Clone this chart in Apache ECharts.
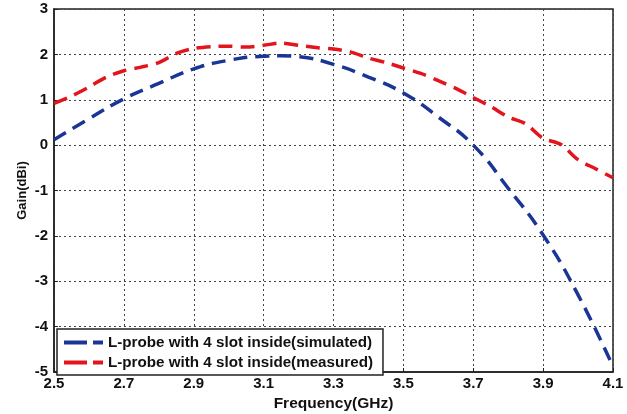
<!DOCTYPE html>
<html><head><meta charset="utf-8">
<script src="https://cdn.jsdelivr.net/npm/echarts@6/dist/echarts.min.js"></script>
<style>html,body{margin:0;padding:0;background:#fff}#c{width:627px;height:414px}</style>
</head><body><div id="c"></div>
<script>
const simFreq = [2.5, 2.6, 2.7, 2.8, 2.9, 3.0, 3.1, 3.15, 3.2, 3.3, 3.4, 3.5, 3.6, 3.7, 3.8, 3.9, 4.0, 4.1];
const simGain = [0.12, 0.58, 1.02, 1.36, 1.68, 1.87, 1.96, 1.97, 1.95, 1.78, 1.5, 1.15, 0.62, 0.0, -0.95, -1.98, -3.3, -4.88];
const measFreq = [2.5, 2.55, 2.6, 2.65, 2.7, 2.75, 2.8, 2.85, 2.9, 2.95, 3.0, 3.05, 3.1, 3.15, 3.2, 3.25, 3.3, 3.35, 3.4, 3.45, 3.5, 3.55, 3.6, 3.65, 3.7, 3.75, 3.8, 3.85, 3.9, 3.95, 4.0, 4.05, 4.1];
const measGain = [0.92, 1.08, 1.28, 1.5, 1.64, 1.72, 1.82, 2.02, 2.13, 2.17, 2.18, 2.16, 2.2, 2.25, 2.2, 2.15, 2.12, 2.05, 1.92, 1.82, 1.7, 1.58, 1.42, 1.25, 1.05, 0.85, 0.62, 0.47, 0.15, 0.02, -0.32, -0.52, -0.72];
const xTicks = [2.5, 2.7, 2.9, 3.1, 3.3, 3.5, 3.7, 3.9, 4.1];
const yTicks = [-5, -4, -3, -2, -1, 0, 1, 2, 3];
const seriesNames = ['L-probe with 4 slot inside(simulated)', 'L-probe with 4 slot inside(measured)'];

const chart = echarts.init(document.getElementById('c'));
const font = 'Arial, "Liberation Sans", sans-serif';
const gridLine = {show: true, lineStyle: {color: '#444', type: [2, 3], width: 1}};
const dashIcon = 'path://M0,0 H23 V4 H0 Z M29,0 H39 V4 H29 Z';
chart.setOption({
  animation: false,
  grid: {left: 54, right: 14, top: 9, bottom: 42, show: true, borderColor: '#222', borderWidth: 1.5,
         backgroundColor: '#fff', outerBoundsMode: 'none', containLabel: false},
  xAxis: {
    type: 'value', min: xTicks[0], max: xTicks[xTicks.length - 1], interval: 0.2,
    name: 'Frequency(GHz)', nameLocation: 'middle', nameGap: 22,
    nameTextStyle: {fontFamily: font, fontWeight: 'bold', fontSize: 15.5, color: '#111'},
    axisLine: {show: true, onZero: false, lineStyle: {color: '#222', width: 1.5}},
    axisTick: {show: true, inside: true, length: 4, lineStyle: {color: '#222'}},
    axisLabel: {fontFamily: font, fontWeight: 'bold', fontSize: 15, color: '#111', margin: 4,
      formatter: v => v.toFixed(1)},
    splitLine: gridLine
  },
  yAxis: {
    type: 'value', min: yTicks[0], max: yTicks[yTicks.length - 1], interval: 1,
    name: 'Gain(dBi)', nameLocation: 'middle', nameGap: 25, nameRotate: 90, nameMoveOverlap: false,
    nameTextStyle: {fontFamily: font, fontWeight: 'bold', fontSize: 13, color: '#111'},
    axisLine: {show: true, onZero: false, lineStyle: {color: '#222', width: 1.5}},
    axisTick: {show: true, inside: true, length: 4, lineStyle: {color: '#222'}},
    axisLabel: {fontFamily: font, fontWeight: 'bold', fontSize: 15, color: '#111', margin: 6},
    splitLine: gridLine
  },
  legend: {
    orient: 'vertical', left: 57, top: 329, itemGap: 3, itemWidth: 39, itemHeight: 4,
    icon: dashIcon,
    backgroundColor: '#fff', borderColor: '#222', borderWidth: 1.5, borderRadius: 0,
    padding: [5, 10, 4, 7],
    textStyle: {fontFamily: font, fontWeight: 'bold', fontSize: 15.2, color: '#111', lineHeight: 17},
    data: seriesNames
  },
  series: [
    {name: seriesNames[0], type: 'line', symbol: 'none', smooth: true, z: 3,
     lineStyle: {color: '#1a3595', width: 3.5, type: [14, 8]}, itemStyle: {color: '#1a3595'},
     data: simFreq.map((f, i) => [f, simGain[i]])},
    {name: seriesNames[1], type: 'line', symbol: 'none', smooth: 0.3, z: 3,
     lineStyle: {color: '#e3141c', width: 3.5, type: [14, 8]}, itemStyle: {color: '#e3141c'},
     data: measFreq.map((f, i) => [f, measGain[i]])}
  ]
});
</script></body></html>
